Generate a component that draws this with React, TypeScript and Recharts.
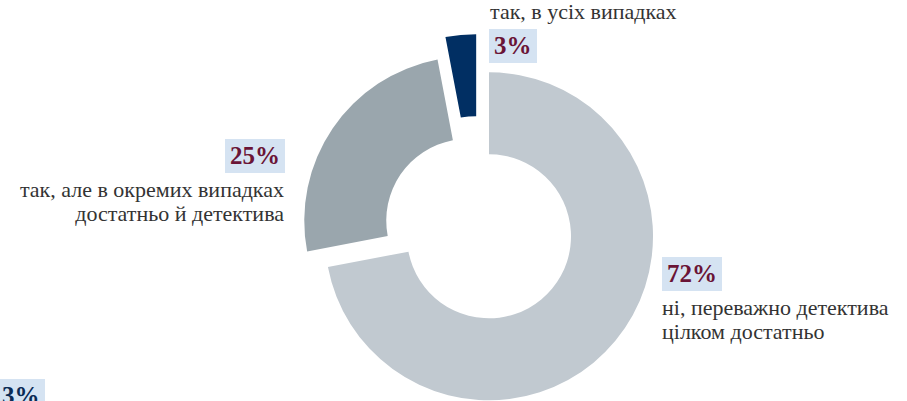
import { PieChart, Pie, Cell } from 'recharts';

// values
const answers = ['ні, переважно детектива цілком достатньо', 'так, але в окремих випадках достатньо й детектива', 'так, в усіх випадках'];
const shares = [72, 25, 3];
const sliceColors = ['#c1c9d0', '#9aa6ad', '#012f63'];
const explode = [13, 13, 30];

const data = answers.map((name, i) => ({ name, value: shares[i] }));

const W = 907;
const H = 401;
const CX = 479;
const CY = 228;

const total = shares.reduce((s, v) => s + v, 0);
const midAngles = shares.map((v, i) => {
  const before = shares.slice(0, i).reduce((s, x) => s + x, 0);
  return ((before + v / 2) / total) * 360; // clockwise from 12 o'clock
});

const serif = '"Liberation Serif", "DejaVu Serif", serif';
const textColor = '#333333';
const pctColor = '#6a1436';
const boxColor = '#d5e3f2';

function PctBox({ text, color = pctColor }: { text: string; color?: string }) {
  return (
    <span
      style={{
        display: 'inline-block',
        background: boxColor,
        color,
        fontWeight: 700,
        fontSize: 25,
        lineHeight: '34px',
        padding: '0 5px',
      }}
    >
      {text}
    </span>
  );
}

export default function App() {
  return (
    <div style={{ position: 'absolute', left: 0, top: 0, width: W, height: H, overflow: 'hidden', background: '#fff', fontFamily: serif }}>
      <PieChart width={W} height={H} margin={{ top: 0, right: 0, bottom: 0, left: 0 }}>
        {data.map((_, k) => {
          const a = (midAngles[k] * Math.PI) / 180;
          return (
            <Pie
              key={k}
              data={data}
              dataKey="value"
              nameKey="name"
              cx={CX + explode[k] * Math.sin(a)}
              cy={CY - explode[k] * Math.cos(a)}
              startAngle={90}
              endAngle={-270}
              innerRadius={82}
              outerRadius={164}
              stroke="none"
              isAnimationActive={false}
            >
              {data.map((_, i) => (
                <Cell key={i} fill={i === k ? sliceColors[i] : 'none'} />
              ))}
            </Pie>
          );
        })}
      </PieChart>

      {/* 3% */}
      <div style={{ position: 'absolute', left: 490, top: 0, color: textColor, fontSize: 22, lineHeight: '24px', whiteSpace: 'nowrap' }}>
        {answers[2]}
      </div>
      <div style={{ position: 'absolute', left: 489, top: 29 }}>
        <PctBox text={`${shares[2]}%`} />
      </div>

      {/* 25% */}
      <div style={{ position: 'absolute', right: W - 285, top: 139 }}>
        <PctBox text={`${shares[1]}%`} />
      </div>
      <div style={{ position: 'absolute', right: W - 284, top: 178, width: 300, textAlign: 'right', color: textColor, fontSize: 22, lineHeight: '24px' }}>
        так, але в окремих випадках
        <br />
        достатньо й детектива
      </div>

      {/* 72% */}
      <div style={{ position: 'absolute', left: 662, top: 257 }}>
        <PctBox text={`${shares[0]}%`} />
      </div>
      <div style={{ position: 'absolute', left: 662, top: 296, color: textColor, fontSize: 22, lineHeight: '24px', whiteSpace: 'nowrap' }}>
        ні, переважно детектива
        <br />
        цілком достатньо
      </div>

      {/* stray legend fragment at the bottom */}
      <div style={{ position: 'absolute', left: -3, top: 379 }}>
        <PctBox text="3%" color="#0b2b55" />
      </div>
    </div>
  );
}
